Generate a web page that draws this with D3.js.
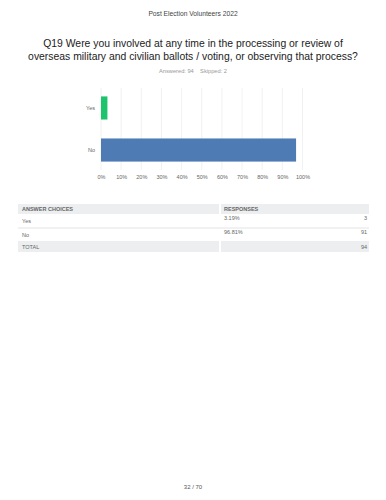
<!DOCTYPE html>
<html>
<head>
<meta charset="utf-8">
<script src="https://cdn.jsdelivr.net/npm/d3@7"></script>
<style>
  body { margin: 0; background: #fff; }
  svg { display: block; font-family: "Liberation Sans", Arial, sans-serif; }
</style>
</head>
<body>
<div id="chart"></div>
<script>
var categories = ['Yes', 'No']
var percents = [3.19, 96.81]
var counts = [3, 91]
var total = 94
var skipped = 2
var ticks = [0, 10, 20, 30, 40, 50, 60, 70, 80, 90, 100]
var barColors = ['#1ec46d', '#4f7bb5']

var svg = d3.select('#chart').append('svg')
  .attr('width', 386).attr('height', 500)

svg.append('rect').attr('width', 386).attr('height', 500).attr('fill', '#fff')

// page header
svg.append('text')
  .attr('x', 193).attr('y', 16)
  .attr('text-anchor', 'middle')
  .attr('font-size', 6.7).attr('fill', '#444')
  .text('Post Election Volunteers 2022')

var qLines = [
  'Q19 Were you involved at any time in the processing or review of',
  'overseas military and civilian ballots / voting, or observing that process?'
]
svg.selectAll('text.q').data(qLines).enter().append('text')
  .attr('class', 'q')
  .attr('x', 193).attr('y', (d, i) => 47 + i * 13)
  .attr('text-anchor', 'middle')
  .attr('font-size', 10.4).attr('fill', '#222')
  .text(d => d)

svg.append('text')
  .attr('x', 193).attr('y', 73)
  .attr('text-anchor', 'middle')
  .attr('font-size', 5.7).attr('fill', '#999')
  .attr('xml:space', 'preserve')
  .text('Answered: ' + total + '    Skipped: ' + skipped)

// bar chart
var x = d3.scaleLinear().domain([0, 100]).range([101, 302.5])
var y = d3.scaleBand().domain(categories).range([88, 170]).paddingInner(0.45).paddingOuter(0.2)

svg.append('g').selectAll('line').data(ticks).enter().append('line')
  .attr('x1', d => x(d)).attr('x2', d => x(d))
  .attr('y1', 88).attr('y2', 170)
  .attr('stroke', '#eee').attr('stroke-width', 0.8)

svg.append('g').selectAll('rect').data(categories).enter().append('rect')
  .attr('x', x(0))
  .attr('y', d => y(d))
  .attr('width', (d, i) => x(percents[i]) - x(0))
  .attr('height', y.bandwidth())
  .attr('fill', (d, i) => barColors[i])

var xAxis = d3.axisBottom(x).tickValues(ticks).tickSize(0).tickFormat(d => d + '%')
svg.append('g').attr('transform', 'translate(0,172)').call(xAxis)
  .call(g => g.select('.domain').remove())
  .selectAll('text').attr('font-size', 5.5).attr('fill', '#666')
  .attr('font-family', '"Liberation Sans", Arial, sans-serif')

var yAxis = d3.axisLeft(y).tickSize(0).tickPadding(0)
svg.append('g').attr('transform', 'translate(95,0)').call(yAxis)
  .call(g => g.select('.domain').remove())
  .selectAll('text').attr('font-size', 5.5).attr('fill', '#666')
  .attr('font-family', '"Liberation Sans", Arial, sans-serif')

// table
var tx0 = 18, tx1 = 369, tmid = 220
var rows = categories.map((c, i) => ({label: c, pct: percents[i].toFixed(2) + '%', n: counts[i]}))

var tbl = svg.append('g').attr('font-size', 5.5)

tbl.append('rect').attr('x', tx0).attr('y', 204).attr('width', tmid - tx0 - 1).attr('height', 10).attr('fill', '#eceeef')
tbl.append('rect').attr('x', tmid + 1).attr('y', 204).attr('width', tx1 - tmid - 1).attr('height', 10).attr('fill', '#eceeef')
tbl.append('text').attr('x', tx0 + 4).attr('y', 211).attr('font-weight', 'bold').attr('fill', '#666').text('ANSWER CHOICES')
tbl.append('text').attr('x', tmid + 4).attr('y', 211).attr('font-weight', 'bold').attr('fill', '#666').text('RESPONSES')

var rowY = [214, 228]
rows.forEach(function(r, i){
  var top = rowY[i]
  tbl.append('text').attr('x', tx0 + 4).attr('y', top + 9).attr('fill', '#666').text(r.label)
  tbl.append('text').attr('x', tmid + 4).attr('y', top + 6).attr('fill', '#666').text(r.pct)
  tbl.append('text').attr('x', tx1 - 2).attr('y', top + 6).attr('text-anchor', 'end').attr('fill', '#666').text(r.n)
})
tbl.append('line').attr('x1', tx0).attr('x2', tx1).attr('y1', 228).attr('y2', 228).attr('stroke', '#dcdcdc').attr('stroke-width', 0.8)

tbl.append('rect').attr('x', tx0).attr('y', 241).attr('width', tmid - tx0 - 1).attr('height', 11).attr('fill', '#eceeef')
tbl.append('rect').attr('x', tmid + 1).attr('y', 241).attr('width', tx1 - tmid - 1).attr('height', 11).attr('fill', '#eceeef')
tbl.append('text').attr('x', tx0 + 4).attr('y', 248.5).attr('fill', '#666').text('TOTAL')
tbl.append('text').attr('x', tx1 - 2).attr('y', 248.5).attr('text-anchor', 'end').attr('fill', '#666').text(total)

// footer
svg.append('text')
  .attr('x', 193).attr('y', 489)
  .attr('text-anchor', 'middle')
  .attr('font-size', 6).attr('fill', '#555')
  .text('32 / 70')
</script>
</body>
</html>
